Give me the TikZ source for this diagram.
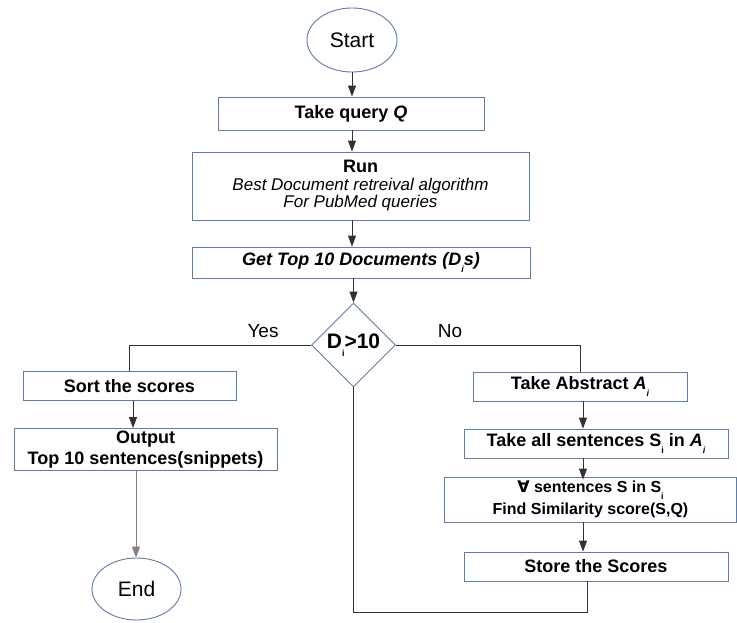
\documentclass[tikz,border=0pt]{standalone}
\usepackage{fontspec}
\setmainfont{Liberation Sans}
\newfontfamily\symfont{DejaVu Sans}
\usetikzlibrary{shapes.geometric,arrows.meta}
\definecolor{boxc}{RGB}{96,124,160}
\definecolor{linec}{RGB}{50,50,50}
\newcommand{\sbs}[1]{\raisebox{-0.4em}{\fontsize{9}{9}\selectfont #1}}
\tikzset{
  pbox/.style={draw=boxc,line width=0.9pt,rectangle,inner sep=0pt,align=center,
    font=\fontsize{18}{21}\selectfont\bfseries},
  term/.style={draw=boxc,line width=0.9pt,ellipse,inner sep=0pt,
    font=\fontsize{21}{24}\selectfont},
  decis/.style={draw=boxc!80!gray,line width=0.9pt,diamond,inner sep=0pt,
    minimum width=84pt,minimum height=84pt,font=\fontsize{21}{24}\selectfont\bfseries},
  arr/.style={draw=linec,line width=0.9pt,-{Triangle[length=11pt,width=8pt]}},
  ln/.style={draw=linec,line width=0.9pt},
  lbl/.style={font=\fontsize{19}{21}\selectfont,inner sep=0pt}
}
\begin{document}
\begin{tikzpicture}[x=1pt,y=-1pt]
\useasboundingbox[fill=white] (0,0) rectangle (737,622);
\node[term,minimum width=90pt,minimum height=64pt] (start) at (352,40) {Start};
\node[pbox,minimum width=266pt,minimum height=33pt] (q) at (351,113.5) {Take query \textit{Q}};
\node[pbox,minimum width=337pt,minimum height=68pt] (run) at (360.5,186)
  {Run\\[-3pt]{\fontsize{17}{19}\selectfont\mdseries\itshape Best Document retreival algorithm}\\[-4pt]{\fontsize{17}{19}\selectfont\mdseries\itshape For PubMed queries}};
\node[pbox,minimum width=338pt,minimum height=31pt] (get) at (361,262.5)
  {\itshape Get Top 10 Documents (D\sbs{i}s)};
\node[decis] (dec) at (353.5,345) {D\sbs{i}>10};
\node[pbox,minimum width=213pt,minimum height=29pt] (sort) at (129.5,386) {Sort the scores};
\node[pbox,minimum width=263pt,minimum height=42pt] (out) at (145.5,449.5)
  {Output\\[0pt]Top 10 sentences(snippets)};
\node[term,minimum width=89pt,minimum height=62pt] (end) at (136.5,589) {End};
\node[pbox,minimum width=214pt,minimum height=29pt] (abs) at (580,386.5) {Take Abstract \textit{A\sbs{i}}};
\node[pbox,minimum width=264pt,minimum height=29pt] (all) at (596,443.5)
  {Take all sentences S\sbs{i} in \textit{A\sbs{i}}};
\node[pbox,minimum width=292pt,minimum height=45pt,font=\fontsize{16}{18}\selectfont\bfseries] (sim) at (590.5,499.5)
  {{\symfont\bfseries ∀} sentences S in S\sbs{i}\\[4pt]Find Similarity score(S,Q)};
\node[pbox,minimum width=264pt,minimum height=29pt] (store) at (596,566.5) {Store the Scores};
% connectors
\draw[arr] (start.south) -- (start.south |- q.north);
\draw[arr] (q.south -| start) -- (run.north -| start);
\draw[arr] (run.south -| start) -- (get.north -| start);
\draw[arr] (get.south -| dec) -- (dec.north);
\coordinate (yc) at (129,345);
\coordinate (nc) at (580,345);
\draw[ln] (dec.west) -- (yc) -- (yc |- sort.north);
\draw[ln] (dec.east) -- (nc) -- (nc |- abs.north);
\node[lbl] (yes) at (263,331) {Yes};
\node[lbl] (no) at (450,331) {No};
\coordinate (sx) at (133,0);
\draw[arr] (sort.south -| sx) -- (out.north -| sx);
\coordinate (ox) at (136,0);
\draw[draw=gray,line width=0.9pt,-{Triangle[length=11pt,width=8pt]}] (out.south -| ox) -- (end.north -| ox);
\coordinate (rx) at (583,0);
\draw[arr] (abs.south -| rx) -- (all.north -| rx);
\draw[arr] (all.south -| rx) -- ([yshift=-3pt]sim.north -| rx);
\draw[arr] (sim.south -| rx) -- (store.north -| rx);
\coordinate (lb) at (587,612);
\draw[ln] (store.south -| lb) -- (lb) -- (lb -| dec.south) -- (dec.south);
\end{tikzpicture}
\end{document}
